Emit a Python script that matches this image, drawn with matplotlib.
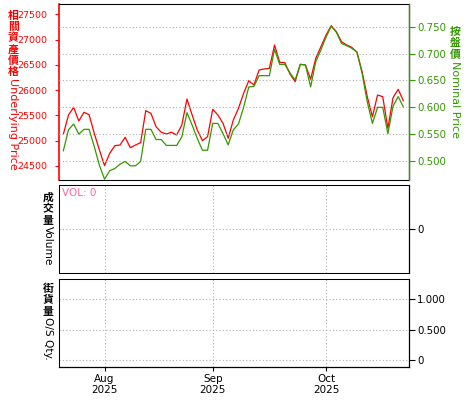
import numpy as np
import pandas as pd
import matplotlib
matplotlib.use("Agg")
import matplotlib.pyplot as plt

plt.rcParams['font.family'] = ['DejaVu Sans', 'Noto Sans CJK TC']

# 交易日 (2025-07-22 ~ 2025-10-24, 除去 10/1, 10/7 假期)
dates = pd.bdate_range("2025-07-22", "2025-10-24")
dates = dates[~dates.isin(pd.to_datetime(["2025-10-01", "2025-10-07"]))]

# 相關資產價格 (左軸)
underlying = [25127, 25509, 25661, 25390, 25562, 25515, 25147, 24817, 24506, 24751,
              24902, 24915, 25068, 24862, 24915, 24961, 25594, 25542, 25277, 25167,
              25133, 25167, 25113, 25311, 25825, 25509, 25212, 25001, 25080, 25621,
              25509, 25344, 25048, 25410, 25641, 25938, 26187, 26102, 26399, 26419,
              26432, 26893, 26551, 26543, 26320, 26167, 26511, 26497, 26215, 26630,
              26859, 27091, 27275, 27156, 26958, 26893, 26847, 26749, 26365, 25871,
              25475, 25904, 25871, 25246, 25851, 26017, 25791]

# 按盤價 (右軸)
nominal = [0.519, 0.558, 0.569, 0.550, 0.559, 0.559, 0.527, 0.492, 0.466, 0.482,
           0.486, 0.494, 0.499, 0.491, 0.491, 0.499, 0.559, 0.559, 0.540, 0.540,
           0.529, 0.529, 0.529, 0.545, 0.590, 0.567, 0.542, 0.520, 0.520, 0.570,
           0.570, 0.551, 0.530, 0.558, 0.569, 0.600, 0.638, 0.639, 0.659, 0.659,
           0.659, 0.708, 0.680, 0.680, 0.664, 0.651, 0.680, 0.679, 0.638, 0.685,
           0.707, 0.731, 0.751, 0.740, 0.719, 0.715, 0.710, 0.703, 0.663, 0.610,
           0.570, 0.600, 0.600, 0.551, 0.602, 0.620, 0.601]

left_ticks = [24500, 25000, 25500, 26000, 26500, 27000, 27500]
right_ticks = [0.500, 0.550, 0.600, 0.650, 0.700, 0.750]
os_ticks = [0, 0.5, 1.0]
os_labels = ["0", "0.500", "1.000"]

RED = "#ff0000"
GREEN = "#339900"
GRID = "#b0b0b0"
DOT = (0, (1, 1))
GRID_DOT = (0, (1, 2))

x = np.arange(len(dates))
month_pos = [i for i in range(1, len(dates)) if dates[i].month != dates[i - 1].month]
month_lab = [dates[i].strftime("%b\n%Y") for i in month_pos]

W, H = 475, 400
fig = plt.figure(figsize=(W / 100, H / 100), dpi=100)


def box(top, bottom):
    return [58.7 / W, 1 - bottom / H, (409 - 58.7) / W, (bottom - top) / H]


ax = fig.add_axes(box(4.3, 180.3))
ax2 = ax.twinx()
axv = fig.add_axes(box(185.3, 273.3))
axo = fig.add_axes(box(278.7, 366.7))

for a in (ax, ax2, axv, axo):
    a.set_xlim(-0.9, 67.1)
    a.set_xticks(month_pos)
    a.set_facecolor("none")
    for s in ("top", "bottom", "left"):
        a.spines[s].set_linestyle(DOT)
        a.spines[s].set_linewidth(0.75)
    a.spines["right"].set_linewidth(0.9)

# 主圖
ax.plot(x, underlying, color=RED, lw=0.9)
ax2.plot(x, nominal, color=GREEN, lw=0.9)
ax.set_ylim(24217, 27698)
ax2.set_ylim(0.464, 0.792)
ax.set_yticks(left_ticks)
ax2.set_yticks(right_ticks)
ax2.set_yticklabels([f"{v:.3f}" for v in right_ticks])
ax.tick_params(axis="y", colors=RED, labelsize=6.8, length=3, pad=5)
ax2.tick_params(axis="y", colors=GREEN, labelsize=7.4, length=4, pad=2)
ax.tick_params(axis="x", labelbottom=False, length=0)
ax2.tick_params(axis="x", labelbottom=False, length=0)
ax.spines["left"].set_color(RED)
ax.spines["left"].set_linestyle("-")
ax.spines["left"].set_linewidth(1.2)
ax2.spines["right"].set_color(GREEN)
ax2.spines["right"].set_linestyle(DOT)
ax2.spines["left"].set_visible(False)
ax2.grid(True, color=GRID, linestyle=GRID_DOT, lw=0.8)
ax2.set_axisbelow(True)

# 成交量
axv.set_ylim(-1, 1)
axv.yaxis.tick_right()
axv.set_yticks([0])
axv.tick_params(axis="y", labelsize=7.4, length=4, pad=2)
axv.tick_params(axis="x", labelbottom=False, length=0)
axv.grid(True, color=GRID, linestyle=GRID_DOT, lw=0.8)
axv.text(0.01, 0.97, "VOL: 0", transform=axv.transAxes, color="#ff6699",
         fontsize=7.5, ha="left", va="top")

# 街貨量
axo.set_ylim(-0.11, 1.34)
axo.yaxis.tick_right()
axo.set_yticks(os_ticks)
axo.set_yticklabels(os_labels)
axo.tick_params(axis="y", labelsize=7.4, length=4, pad=2)
axo.set_xticklabels(month_lab)
axo.tick_params(axis="x", labelsize=7.5, length=3, pad=2)
axo.spines["bottom"].set_linestyle("-")
axo.spines["bottom"].set_linewidth(0.9)
axo.grid(True, color=GRID, linestyle=GRID_DOT, lw=0.8)

renderer = fig.canvas.get_renderer()


def vlabel(xc, ytop, cjk, latin, color, size=7.8, ls=1.12, lsize=8):
    # 中文直排, 英文旋轉
    t = fig.text(xc / W, 1 - ytop / H, "\n".join(cjk), ha="center", va="top",
                 family="Noto Sans CJK TC", fontweight="bold", fontsize=size,
                 color=color, linespacing=ls)
    bb = t.get_window_extent(renderer)
    fig.text(xc / W, (bb.y0 - 1) / H, latin, rotation=270,
             ha="center", va="top", fontsize=lsize, color=color)


vlabel(13.3, 10.5, "相關資產價格", "Underlying Price", RED)
vlabel(455.5, 27, "按盤價", "Nominal Price", GREEN)
vlabel(48.3, 192.5, "成交量", "Volume", "black", lsize=7.6)
vlabel(48.3, 283.5, "街貨量", "O/S Qty.", "black", lsize=7.6)

fig.savefig("out.png", dpi=100)
